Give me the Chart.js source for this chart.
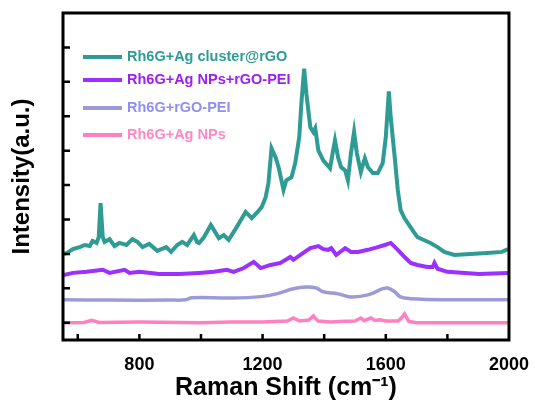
<!DOCTYPE html>
<html lang="en">
<head>
<meta charset="UTF-8">
<title>Raman spectra</title>
<script src="https://cdn.jsdelivr.net/npm/chart.js"></script>
<style>
  body { margin: 0; background: #fff; }
  canvas { display: block; }
</style>
</head>
<body>
<canvas id="ramanChart" width="535" height="403"></canvas>
<script>
// labels
const seriesNames = ['Rh6G+Ag cluster@rGO', 'Rh6G+Ag NPs+rGO-PEI', 'Rh6G+rGO-PEI', 'Rh6G+Ag NPs'];
const xTickLabels = [800, 1200, 1600, 2000];
const xTickMarks = [600, 800, 1000, 1200, 1400, 1600, 1800];
const yTickMarks = [0, 1, 2, 3, 4, 5, 6, 7, 8];

// Rh6G+Ag cluster@rGO
const tealX = [555,565,584,606,623,639,648,661,668,674,681,687,703,719,735,758,777,794,810,832,858,887,903,923,939,955,977,987,994,1010,1032,1058,1074,1090,1116,1145,1165,1181,1197,1210,1219,1229,1242,1252,1268,1277,1294,1306,1319,1326,1335,1342,1355,1365,1371,1381,1397,1419,1429,1435,1445,1455,1468,1477,1487,1497,1506,1519,1532,1542,1558,1574,1590,1600,1610,1616,1629,1639,1648,1660,1671,1690,1703,1720,1745,1768,1790,1823,1874,1929,1977,1997];
const tealY = [2.0,2.03,2.14,2.20,2.26,2.23,2.38,2.32,2.49,3.48,2.49,2.35,2.43,2.23,2.32,2.26,2.43,2.35,2.20,2.29,2.09,2.20,2.06,2.26,2.35,2.26,2.55,2.35,2.32,2.49,2.84,2.46,2.55,2.41,2.78,3.22,3.04,3.19,3.36,3.65,4.06,5.07,4.81,4.52,3.86,4.14,4.23,4.64,5.39,6.38,7.38,6.67,5.68,5.54,5.65,5.01,4.72,4.49,5.01,5.30,4.81,4.52,4.43,4.14,4.93,5.54,4.93,4.38,4.78,4.52,4.35,4.35,4.64,5.39,6.72,5.97,4.81,3.86,3.28,3.05,2.90,2.65,2.49,2.42,2.32,2.20,2.06,1.97,2.00,2.03,2.06,2.14];

// Rh6G+Ag NPs+rGO-PEI
const purpleX = [555,584,629,681,703,752,768,800,865,929,994,1042,1084,1106,1139,1171,1194,1226,1258,1290,1300,1332,1355,1381,1397,1413,1423,1439,1468,1487,1510,1542,1574,1597,1616,1639,1661,1681,1703,1735,1752,1758,1768,1800,1903,1997];
const purpleY = [1.39,1.45,1.48,1.54,1.45,1.54,1.45,1.48,1.42,1.42,1.45,1.48,1.54,1.48,1.59,1.77,1.59,1.68,1.74,1.91,1.83,2.03,2.17,2.23,2.14,2.12,2.17,1.97,2.17,2.06,2.06,2.12,2.20,2.26,2.32,2.12,1.91,1.74,1.68,1.62,1.62,1.74,1.57,1.48,1.42,1.45];

// Rh6G+rGO-PEI
const lavX = [555,700,900,950,970,1100,1194,1245,1300,1342,1374,1397,1445,1487,1542,1590,1606,1629,1648,1681,1800,1997];
const lavY = [0.67,0.66,0.66,0.67,0.73,0.72,0.76,0.84,0.99,1.04,1.01,0.90,0.84,0.75,0.81,0.99,1.01,0.90,0.75,0.70,0.67,0.67];

// Rh6G+Ag NPs
const pinkX = [555,620,645,670,800,1000,1100,1200,1280,1300,1320,1350,1365,1380,1420,1450,1500,1519,1530,1552,1565,1581,1600,1640,1652,1661,1675,1700,1997];
const pinkY = [0.0,0.01,0.07,0.01,0.02,0.0,0.02,0.02,0.05,0.14,0.05,0.08,0.2,0.05,0.02,0.04,0.05,0.14,0.06,0.14,0.07,0.09,0.05,0.05,0.15,0.26,0.04,0.0,0.0];

const colors = ['#2e9b94', '#9b30ff', '#9d9ad8', '#ff80c0'];
const textColors = ['#2e9b94', '#9b1ff0', '#8f8ff2', '#ff88c4'];
const widths = [4, 4, 3.5, 3.5];
const xs = [tealX, purpleX, lavX, pinkX];
const ys = [tealY, purpleY, lavY, pinkY];

const FONT = "'Liberation Sans', Arial, sans-serif";

// frame, inward ticks and legend
const frame = {
    id: 'frame',
    afterDraw(chart) {
        const ctx = chart.ctx;
        const a = chart.chartArea;
        const x = chart.scales.x, y = chart.scales.y;
        ctx.save();
        ctx.strokeStyle = '#000';
        ctx.lineWidth = 2.5;
        ctx.beginPath();
        xTickMarks.forEach(v => {
            const px = x.getPixelForValue(v);
            ctx.moveTo(px, a.bottom);
            ctx.lineTo(px, a.bottom - 6);
        });
        yTickMarks.forEach(v => {
            const py = y.getPixelForValue(v);
            ctx.moveTo(a.left, py);
            ctx.lineTo(a.left + 7, py);
        });
        ctx.stroke();
        ctx.lineWidth = 3;
        ctx.strokeRect(a.left, a.top, a.right - a.left, a.bottom - a.top);

        // legend
        const rows = [57, 80, 108, 135];
        ctx.font = 'bold 14.5px ' + FONT;
        ctx.textBaseline = 'middle';
        seriesNames.forEach((name, i) => {
            ctx.strokeStyle = colors[i];
            ctx.lineWidth = 4;
            ctx.beginPath();
            ctx.moveTo(83, rows[i]);
            ctx.lineTo(122, rows[i]);
            ctx.stroke();
            ctx.fillStyle = textColors[i];
            ctx.fillText(name, 127, rows[i]);
        });
        ctx.restore();
    }
};

const ctx = document.getElementById('ramanChart').getContext('2d');
const chart = new Chart(ctx, {
    type: 'line',
    data: {
        datasets: seriesNames.map((name, i) => ({
            label: name,
            data: xs[i].map((v, j) => ({ x: v, y: ys[i][j] })),
            borderColor: colors[i],
            borderWidth: widths[i],
            pointRadius: 0,
            tension: i === 2 ? 0.4 : 0,
            fill: false
        }))
    },
    options: {
        responsive: false,
        animation: false,
        layout: { padding: { top: 13, right: 23, left: 0, bottom: 0 } },
        plugins: {
            legend: { display: false },
            tooltip: { enabled: false }
        },
        scales: {
            x: {
                type: 'linear',
                min: 552,
                max: 2000,
                grid: { display: false },
                border: { display: false },
                ticks: {
                    stepSize: 200,
                    autoSkip: false,
                    maxRotation: 0,
                    padding: 6,
                    color: '#000',
                    font: { family: FONT, size: 18, weight: 'bold' },
                    callback: v => xTickLabels.includes(v) ? String(v) : ''
                },
                title: {
                    display: true,
                    text: 'Raman Shift (cm\u207B\u00B9)',
                    color: '#000',
                    font: { family: FONT, size: 25, weight: 'bold' },
                    padding: { top: 0, bottom: 0 }
                },
                afterFit(s) { s.height = 63; }
            },
            y: {
                min: -0.5,
                max: 9,
                grid: { display: false },
                border: { display: false },
                ticks: { display: false },
                title: {
                    display: true,
                    text: 'Intensity(a.u.)',
                    color: '#000',
                    font: { family: FONT, size: 24, weight: 'bold' },
                    padding: { top: 8, bottom: 0 }
                },
                afterFit(s) { s.width = 63; }
            }
        }
    },
    plugins: [frame]
});
</script>
</body>
</html>
